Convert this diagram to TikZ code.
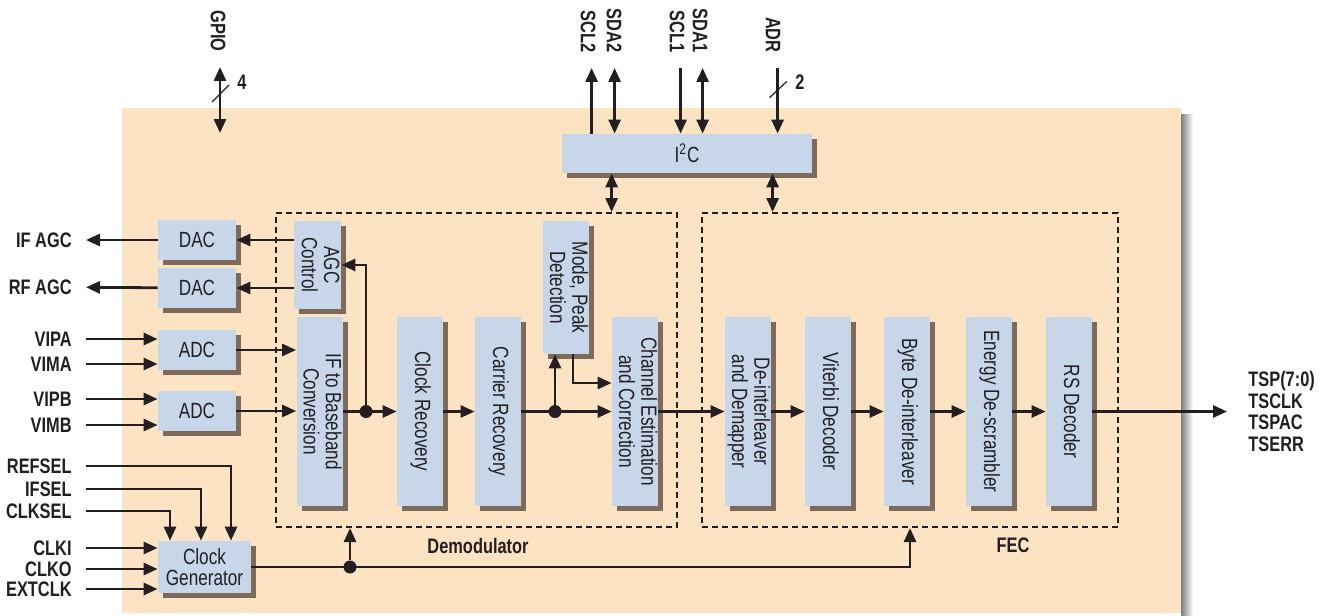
\documentclass[tikz,border=0pt]{standalone}
\usepackage{fontspec}
\setmainfont{Liberation Sans}[FakeStretch=0.78]
\usepackage{graphicx}
\usetikzlibrary{arrows.meta,calc,positioning,shadows}
\definecolor{peach}{HTML}{FBE3C4}
\definecolor{boxblue}{HTML}{C8D6EA}
\definecolor{boxshadow}{HTML}{7E6A5A}
\definecolor{ink}{HTML}{231F20}
\newcommand{\vtext}[1]{\rotatebox{-90}{\begin{tabular}{@{}c@{}}#1\end{tabular}}}

\begin{document}
\begin{tikzpicture}[x=0.5pt,y=-0.5pt,
blk/.style={fill=boxblue,inner sep=0pt,text=ink,font=\fontsize{11}{10.5}\selectfont,
  general shadow={fill=boxshadow,shadow xshift=2.5pt,shadow yshift=-2.5pt}},
vblk/.style={blk,minimum width=23pt,minimum height=94.5pt},
grp/.style={draw=ink,line width=1pt,dash pattern=on 3pt off 2pt,inner sep=0pt},
lbl/.style={text=ink,font=\fontsize{10.5}{10.75}\selectfont\bfseries,inner sep=7pt},
toplbl/.style={lbl,rotate=-90,anchor=east,inner sep=7.5pt},
sig/.style={draw=ink,line width=1.4pt,-{Triangle[length=7pt,width=6pt]}},
bsig/.style={sig,{Triangle[length=7pt,width=6pt]}-{Triangle[length=7pt,width=6pt]}},
dot/.style={circle,fill=ink,inner sep=0pt,minimum size=6.5pt}]
\useasboundingbox (0,0) rectangle (1331,615);

\fill[peach] (122,108) rectangle (1181,613);
\shade[left color=black!50,right color=white] (1181,114) rectangle (1193,615);

\node[grp,minimum width=200.5pt,minimum height=157pt] (DEM) at (476.5,370) {};
\node[grp,minimum width=208pt,minimum height=157pt] (FEC) at (910,370) {};
\node[lbl] at (478,546) {Demodulator};
\node[lbl] at (1013,545) {FEC};

\node[blk,minimum width=39pt,minimum height=20pt] (DAC1) at (197,240) {DAC};
\node[blk,minimum width=39pt,minimum height=20pt] (DAC2) at (197,288) {DAC};
\node[blk,minimum width=39pt,minimum height=20pt] (ADC1) at (197,350) {ADC};
\node[blk,minimum width=39pt,minimum height=20pt] (ADC2) at (197,411) {ADC};
\node[blk,minimum width=46.5pt,minimum height=26pt,align=center] (CG) at (204.5,567) {Clock\\Generator};
\node[blk,minimum width=23.5pt,minimum height=44pt] (AGC) at (317.5,265) {\vtext{AGC\\Control}};
\node[vblk] (IFB) at (319.5,411.5) {\vtext{IF to Baseband\\Conversion}};
\node[vblk] (CR) at (420,411.5) {\vtext{Clock Recovery}};
\node[vblk] (CAR) at (498,411.5) {\vtext{Carrier Recovery}};
\node[blk,minimum width=23pt,minimum height=66.5pt] (MPD) at (566,287.5) {\vtext{Mode, Peak\\Detection}};
\node[vblk] (CEC) at (635,411.5) {\vtext{Channel Estimation\\and Correction}};
\node[vblk] (DID) at (748,411.5) {\vtext{De-interleaver\\and Demapper}};
\node[vblk] (VD) at (828,411.5) {\vtext{Viterbi Decoder}};
\node[vblk] (BDI) at (907,411.5) {\vtext{Byte De-interleaver}};
\node[vblk] (EDS) at (989,411.5) {\vtext{Energy De-scrambler}};
\node[vblk] (RSD) at (1069,411.5) {\vtext{RS Decoder}};
\node[blk,minimum width=125pt,minimum height=19.5pt] (I2C) at (687,153.5) {I\textsuperscript{2}C};

\node[lbl,anchor=east] (IFAGC) at (86,240) {IF AGC};
\node[lbl,anchor=east] (RFAGC) at (86,287) {RF AGC};
\node[lbl,anchor=east] (VIPA) at (86,339) {VIPA};
\node[lbl,anchor=east] (VIMA) at (86,364) {VIMA};
\node[lbl,anchor=east] (VIPB) at (86,399) {VIPB};
\node[lbl,anchor=east] (VIMB) at (86,425) {VIMB};
\node[lbl,anchor=east] (REFSEL) at (86,466) {REFSEL};
\node[lbl,anchor=east] (IFSEL) at (86,489) {IFSEL};
\node[lbl,anchor=east] (CLKSEL) at (86,511) {CLKSEL};
\node[lbl,anchor=east] (CLKI) at (86,548) {CLKI};
\node[lbl,anchor=east] (CLKO) at (86,569) {CLKO};
\node[lbl,anchor=east] (EXTCLK) at (86,589) {EXTCLK};
\node[lbl,anchor=west,align=left,inner sep=10.5pt] (TSO) at (1227,411.5) {TSP(7:0)\\TSCLK\\TSPAC\\TSERR};

\node[toplbl] (GPIO) at (218,67) {GPIO};
\node[toplbl] (SCL2) at (588,68) {SCL2};
\node[toplbl] (SDA2) at (614,68) {SDA2};
\node[toplbl] (SCL1) at (677,68) {SCL1};
\node[toplbl] (SDA1) at (700,68) {SDA1};
\node[toplbl] (ADR) at (773,68) {ADR};

\node[dot] (J1) at (366,411.5) {};
\node[dot] (J2) at (555,411.5) {};
\node[dot] (J3) at (350,567) {};

\draw[sig] (DAC1) -- (IFAGC);
\draw[sig] (DAC2) -- (RFAGC);
\draw[sig] (AGC.west |- DAC1) -- (DAC1);
\draw[sig] (AGC.west |- DAC2) -- (DAC2);
\draw[sig] (VIPA) -- (VIPA -| ADC1.west);
\draw[sig] (VIMA) -- (VIMA -| ADC1.west);
\draw[sig] (VIPB) -- (VIPB -| ADC2.west);
\draw[sig] (VIMB) -- (VIMB -| ADC2.west);
\draw[sig] (ADC1) -- (ADC1 -| IFB.west);
\draw[sig] (ADC2) -- (ADC2 -| IFB.west);
\draw[sig] (REFSEL) -| ($(CG.north)+(26.5,0)$);
\draw[sig] (IFSEL) -| ($(CG.north)+(-3.5,0)$);
\draw[sig] (CLKSEL) -| ($(CG.north)+(-34.5,0)$);
\draw[sig] (CLKI) -- (CLKI -| CG.west);
\draw[sig] (CLKO) -- (CLKO -| CG.west);
\draw[sig] (EXTCLK) -- (EXTCLK -| CG.west);

\draw[sig] (IFB) -- (CR);
\draw[sig] (J1) |- (AGC);
\draw[sig] (CR) -- (CAR);
\draw[sig] (CAR) -- (CEC);
\draw[sig] (J2) -- (J2 |- MPD.south);
\draw[sig] ($(MPD.south)+(7,0)$) |- ($(CEC.west)+(0,-28.5)$);
\draw[sig] (CEC) -- (DID);
\draw[sig] (DID) -- (VD);
\draw[sig] (VD) -- (BDI);
\draw[sig] (BDI) -- (EDS);
\draw[sig] (EDS) -- (RSD);
\draw[sig] (RSD) -- (TSO);

\draw[sig] (CG.east) -| (FEC.south);
\draw[sig] (J3) -- (J3 |- DEM.south);

\coordinate (GP) at (220,133);
\draw[bsig] (GP |- GPIO.east) -- (GP);
\draw[ink,line width=0.6pt] ($(GP)+(-8,-31)$) -- ++(17,-17);
\node[lbl,inner sep=0pt] at (242,82) {4};

\coordinate (t1) at ($(I2C.north west)+(30,0)$);
\coordinate (t2) at ($(I2C.north west)+(53,0)$);
\coordinate (t3) at ($(I2C.north west)+(119,0)$);
\coordinate (t4) at ($(I2C.north west)+(141,0)$);
\coordinate (t5) at ($(I2C.north west)+(216,0)$);
\draw[sig] (t1) -- (t1 |- SCL2.east);
\draw[bsig] (t2) -- (t2 |- SDA2.east);
\draw[sig] (t3 |- SCL1.east) -- (t3);
\draw[bsig] (t4) -- (t4 |- SDA1.east);
\draw[sig] (t5 |- ADR.east) -- (t5);
\draw[ink,line width=0.6pt] ($(t5)+(-8,-36)$) -- ++(17,-16);
\node[lbl,inner sep=0pt] at (800,82) {2};

\draw[bsig] ($(I2C.south west)+(50,0)$) coordinate (b1) -- (b1 |- DEM.north);
\draw[bsig] ($(I2C.south west)+(211,0)$) coordinate (b2) -- (b2 |- FEC.north);
\end{tikzpicture}
\end{document}
